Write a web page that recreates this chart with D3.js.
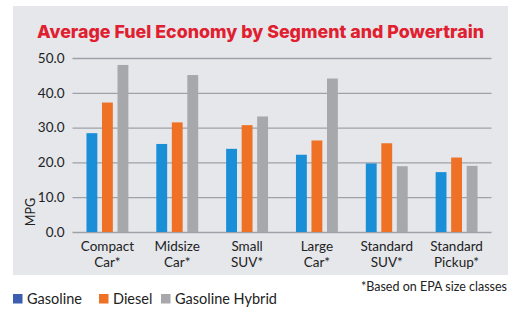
<!DOCTYPE html>
<html><head><meta charset="utf-8">
<script src="https://cdn.jsdelivr.net/npm/d3@7"></script>
<style>html,body{margin:0;padding:0;background:#fff;}svg{display:block;}</style>
</head><body>
<script>
const categories = [["Compact","Car*"],["Midsize","Car*"],["Small","SUV*"],["Large","Car*"],["Standard","SUV*"],["Standard","Pickup*"]];
const seriesNames = ["Gasoline","Diesel","Gasoline Hybrid"];
const gasoline = [28.4, 25.3, 23.9, 22.2, 19.7, 17.2];
const diesel   = [37.2, 31.5, 30.7, 26.3, 25.5, 21.4];
const hybrid   = [48.0, 45.1, 33.2, 44.1, 18.9, 19.0];
const yTicks = [0, 10, 20, 30, 40, 50];
const barColors = ["#1a8fd8", "#ef7125", "#a6a8ab"];
const legendColors = ["#3b5fae", "#ef7125", "#a6a8ab"];

const W = 516, H = 322;
const svg = d3.select("body").append("svg").attr("width", W).attr("height", H);
const font = "Lato, 'Open Sans', sans-serif";

svg.append("rect").attr("x", 13).attr("y", 6).attr("width", 495).attr("height", 269).attr("fill", "#e5e7eb");

svg.append("text").attr("x", 37).attr("y", 38)
  .attr("font-family", "Inter, 'Open Sans', sans-serif").attr("font-weight", 800).attr("font-size", 18)
  .attr("fill", "#e1202f").attr("textLength", 447).attr("lengthAdjust", "spacingAndGlyphs")
  .text("Average Fuel Economy by Segment and Powertrain");

const x0 = d3.scaleBand().domain(d3.range(categories.length)).range([72.5, 491.5]).paddingInner(0.4).paddingOuter(0.2);
const x1 = d3.scaleBand().domain(d3.range(3)).range([0, x0.bandwidth()]).paddingInner(0.3);
const y = d3.scaleLinear().domain([0, 50]).range([232, 58]);

const yAxis = svg.append("g").attr("transform", "translate(72.5,0)")
  .call(d3.axisLeft(y).tickValues(yTicks).tickSize(-419).tickFormat(d3.format(".1f")));
yAxis.select(".domain").remove();
yAxis.selectAll(".tick line").attr("stroke", "#9ea2a8").attr("stroke-width", 1.3);
yAxis.selectAll(".tick text").attr("x", -8).attr("font-family", font).attr("font-size", 13.5).attr("fill", "#222");

svg.append("text").attr("transform", "translate(35,212) rotate(-90)").attr("text-anchor", "middle")
  .attr("font-family", font).attr("font-size", 12.5).attr("fill", "#222").text("MPG");

const data = [gasoline, diesel, hybrid];
const groups = svg.append("g").selectAll("g").data(categories).join("g")
  .attr("transform", (d, i) => `translate(${x0(i)},0)`);
groups.selectAll("rect").data((d, i) => data.map((s, k) => ({k, v: s[i]}))).join("rect")
  .attr("x", d => x1(d.k)).attr("width", x1.bandwidth())
  .attr("y", d => y(d.v)).attr("height", d => y(0) - y(d.v))
  .attr("fill", d => barColors[d.k]);

const xl = svg.append("g").selectAll("text").data(categories).join("text")
  .attr("x", (d, i) => x0(i) + x0.bandwidth() / 2).attr("y", 251)
  .attr("text-anchor", "middle").attr("font-family", font).attr("font-size", 13.5).attr("fill", "#222");
xl.append("tspan").attr("x", (d, i) => x0(i) + x0.bandwidth() / 2).text(d => d[0]);
xl.append("tspan").attr("x", (d, i) => x0(i) + x0.bandwidth() / 2).attr("dy", 16).text(d => d[1]);

const legX = [13, 99, 161];
const leg = svg.append("g").selectAll("g").data(seriesNames).join("g")
  .attr("transform", (d, i) => `translate(${legX[i]},294)`);
leg.append("rect").attr("width", 9.5).attr("height", 9.5).attr("fill", (d, i) => legendColors[i]);
leg.append("text").attr("x", 14).attr("y", 9.5).attr("font-family", font).attr("font-size", 14.5).attr("fill", "#222").text(d => d);

svg.append("text").attr("x", 507).attr("y", 291).attr("text-anchor", "end")
  .attr("font-family", font).attr("font-size", 12.5).attr("fill", "#222").text("*Based on EPA size classes");
</script>
</body></html>
